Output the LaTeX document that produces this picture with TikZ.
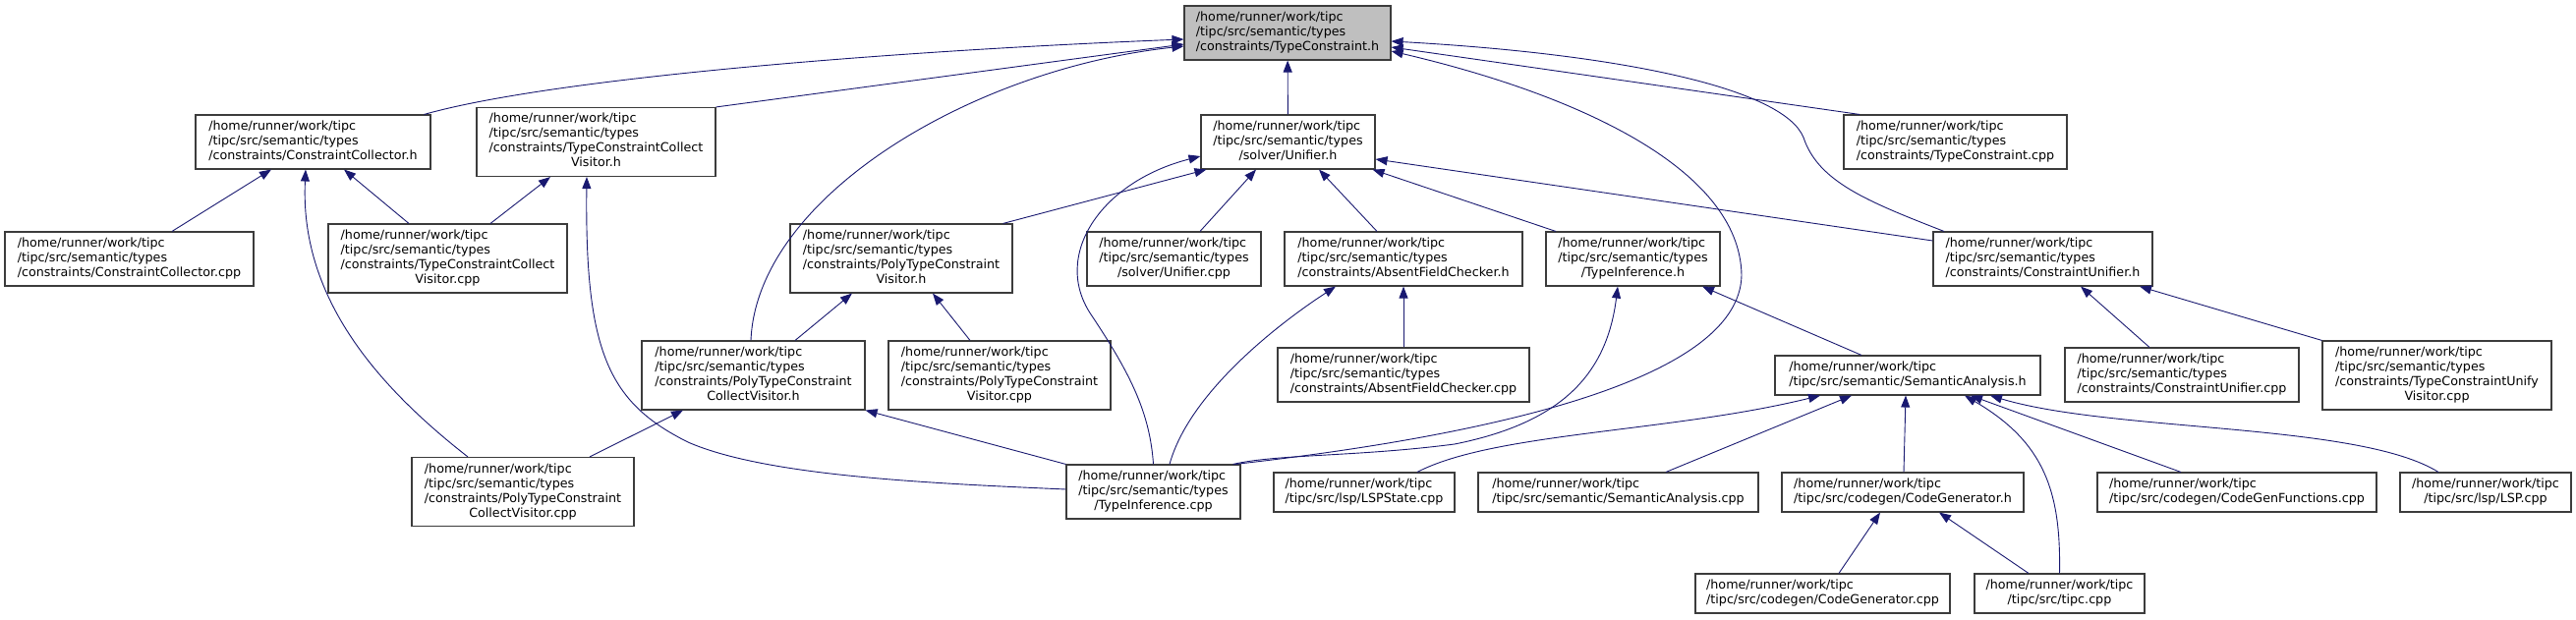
\documentclass[tikz,border=0pt]{standalone}
\usepackage{fontspec}
\setmainfont{DejaVu Sans}
\usepackage{tikz}
\usetikzlibrary{arrows.meta,calc}
\definecolor{edgeblue}{HTML}{191970}
\definecolor{rootgray}{HTML}{BFBFBF}
\definecolor{boxline}{HTML}{3C3C3C}
\newcommand{\dfont}{\fontsize{12.7}{15}\selectfont}
%% file label: all lines left, last one centred
\newcommand{\flbl}[2]{\begin{tabular}{@{}l@{}}#1\\\multicolumn{1}{@{}c@{}}{#2}\end{tabular}}
\tikzset{
  fbox/.style={rectangle,draw=boxline,line width=1.1pt,fill=white,
               inner sep=0pt,font=\dfont},
  rootbox/.style={fbox,fill=rootgray},
  two/.style={minimum height=40pt},
  three/.style={minimum height=55pt},
  four/.style={minimum height=70pt},
  inc/.style={-{Triangle[length=12pt,width=9pt]},draw=edgeblue,
              line width=0.9pt},
}

\begin{document}
\begin{tikzpicture}[x=1pt,y=-1pt]
  \useasboundingbox (0,0) rectangle (2621,631);
  \def\hm{/home/runner/work/tipc}
  \def\st{/tipc/src/semantic/types}
  %% Root
  \node[rootbox,three,minimum width=210pt] (tch) at (1310,33.5)
    {\flbl{\hm\\\st}{/constraints/TypeConstraint.h}};
  %% Rank 1
  \node[fbox,three,minimum width=239pt] (cch) at (318.5,144.5)
    {\flbl{\hm\\\st}{/constraints/ConstraintCollector.h}};
  \node[fbox,four,minimum width=243pt] (tccvh) at (606.5,144.5)
    {\flbl{\hm\\\st\\/constraints/TypeConstraintCollect}{Visitor.h}};
  \node[fbox,three,minimum width=177pt] (unh) at (1310.5,144.5)
    {\flbl{\hm\\\st}{/solver/Unifier.h}};
  \node[fbox,three,minimum width=227pt] (tccpp) at (1989.5,144.5)
    {\flbl{\hm\\\st}{/constraints/TypeConstraint.cpp}};
  %% Rank 2
  \node[fbox,three,minimum width=253pt] (cccpp) at (131.5,263.5)
    {\flbl{\hm\\\st}{/constraints/ConstraintCollector.cpp}};
  \node[fbox,four,minimum width=243pt] (tccvcpp) at (455.5,263)
    {\flbl{\hm\\\st\\/constraints/TypeConstraintCollect}{Visitor.cpp}};
  \node[fbox,four,minimum width=226pt] (ptcvh) at (917,263)
    {\flbl{\hm\\\st\\/constraints/PolyTypeConstraint}{Visitor.h}};
  \node[fbox,three,minimum width=177pt] (uncpp) at (1194.5,263.5)
    {\flbl{\hm\\\st}{/solver/Unifier.cpp}};
  \node[fbox,three,minimum width=242pt] (afch) at (1428,263.5)
    {\flbl{\hm\\\st}{/constraints/AbsentFieldChecker.h}};
  \node[fbox,three,minimum width=177pt] (tih) at (1661.5,263.5)
    {\flbl{\hm\\\st}{/TypeInference.h}};
  \node[fbox,three,minimum width=223pt] (cuh) at (2078.5,263.5)
    {\flbl{\hm\\\st}{/constraints/ConstraintUnifier.h}};
  %% Rank 3
  \node[fbox,four,minimum width=227pt] (ptccvh) at (766.5,382)
    {\flbl{\hm\\\st\\/constraints/PolyTypeConstraint}{CollectVisitor.h}};
  \node[fbox,four,minimum width=226pt] (ptcvcpp) at (1017,382)
    {\flbl{\hm\\\st\\/constraints/PolyTypeConstraint}{Visitor.cpp}};
  \node[fbox,three,minimum width=256pt] (afccpp) at (1428,381.5)
    {\flbl{\hm\\\st}{/constraints/AbsentFieldChecker.cpp}};
  \node[fbox,two,minimum width=270pt] (sah) at (1941,382)
    {\flbl{\hm}{/tipc/src/semantic/SemanticAnalysis.h}};
  \node[fbox,three,minimum width=238pt] (cucpp) at (2220,381.5)
    {\flbl{\hm\\\st}{/constraints/ConstraintUnifier.cpp}};
  \node[fbox,four,minimum width=233pt] (tcuvcpp) at (2479.5,382)
    {\flbl{\hm\\\st\\/constraints/TypeConstraintUnify}{Visitor.cpp}};
  %% Rank 4
  \node[fbox,four,minimum width=226pt] (ptccvcpp) at (532,500.5)
    {\flbl{\hm\\\st\\/constraints/PolyTypeConstraint}{CollectVisitor.cpp}};
  \node[fbox,three,minimum width=177pt] (ticpp) at (1173.5,500.5)
    {\flbl{\hm\\\st}{/TypeInference.cpp}};
  \node[fbox,two,minimum width=184pt] (lspstate) at (1388,501)
    {\flbl{\hm}{/tipc/src/lsp/LSPState.cpp}};
  \node[fbox,two,minimum width=285pt] (sacpp) at (1646.5,501)
    {\flbl{\hm}{/tipc/src/semantic/SemanticAnalysis.cpp}};
  \node[fbox,two,minimum width=246pt] (cgh) at (1936,501)
    {\flbl{\hm}{/tipc/src/codegen/CodeGenerator.h}};
  \node[fbox,two,minimum width=284pt] (cgfcpp) at (2276,501)
    {\flbl{\hm}{/tipc/src/codegen/CodeGenFunctions.cpp}};
  \node[fbox,two,minimum width=174pt] (lspcpp) at (2529,501)
    {\flbl{\hm}{/tipc/src/lsp/LSP.cpp}};
  %% Rank 5
  \node[fbox,two,minimum width=259pt] (cgcpp) at (1854.5,604)
    {\flbl{\hm}{/tipc/src/codegen/CodeGenerator.cpp}};
  \node[fbox,two,minimum width=173pt] (tipccpp) at (2095.5,604)
    {\flbl{\hm}{/tipc/src/tipc.cpp}};

  %% Includes of TypeConstraint.h
  \draw[inc] ([xshift=-7pt]cch.north east) .. controls (560,80) and (900,52)
    .. ([yshift=-6.5pt]tch.west);
  \draw[inc] (tccvh.north east) -- ([yshift=-11.5pt]tch.west);
  \draw[inc] ([xshift=-2.5pt]ptccvh.north) .. controls (770,200) and (990,70)
    .. ([yshift=-13.5pt]tch.west);
  \draw[inc] (unh) -- (tch);
  \draw[inc] ([xshift=-97.5pt]tccpp.north) -- ([yshift=-14.5pt]tch.east);
  \draw[inc] ([xshift=-100.5pt]cuh.north) .. controls (1900,205) and (1850,185)
    .. (1835,140) .. controls (1815,90) and (1650,55) .. ([yshift=-8.5pt]tch.east);
  \draw[inc] ([xshift=-6pt]ticpp.north east) .. controls (1500,445) and (1770,390)
    .. (1772,280) .. controls (1770,170) and (1600,95) .. ([yshift=-18.5pt]tch.east);

  %% Unifier.h
  \draw[inc] (ticpp.north) .. controls (1170,420) and (1150,380) .. (1110,320)
    .. controls (1070,260) and (1120,185) .. ([yshift=-14.5pt]unh.west);
  \draw[inc] ([xshift=-10pt]ptcvh.north east) -- ([xshift=6pt]unh.south west);
  \draw[inc] ([xshift=26.5pt]uncpp.north) -- ([xshift=-32.5pt]unh.south);
  \draw[inc] ([xshift=-27pt]afch.north) -- ([xshift=31.5pt]unh.south);
  \draw[inc] ([xshift=-78.5pt]tih.north) -- ([xshift=-3pt]unh.south east);
  \draw[inc] ([yshift=18.5pt]cuh.west) -- ([yshift=-17.5pt]unh.east);

  %% ConstraintCollector.h / TypeConstraintCollectVisitor.h
  \draw[inc] ([xshift=43.5pt]cccpp.north) -- ([xshift=-42.5pt]cch.south);
  \draw[inc] ([xshift=-56pt]ptccvcpp.north) .. controls (380,390) and (305,300)
    .. ([xshift=-7.5pt]cch.south);
  \draw[inc] ([xshift=-39.5pt]tccvcpp.north) -- ([xshift=31.5pt]cch.south);
  \draw[inc] ([xshift=43.5pt]tccvcpp.north) -- ([xshift=-46.5pt]tccvh.south);
  \draw[inc] ([yshift=2.5pt]ticpp.west) .. controls (950,492) and (780,485)
    .. (700,450) .. controls (620,410) and (595,360) .. ([xshift=-9.5pt]tccvh.south);

  %% PolyTypeConstraint visitors
  \draw[inc] ([xshift=42.5pt]ptccvh.north) -- ([xshift=-50pt]ptcvh.south);
  \draw[inc] ([xshift=-30pt]ptcvcpp.north) -- ([xshift=32pt]ptcvh.south);
  \draw[inc] ([xshift=68pt]ptccvcpp.north) -- ([xshift=-71.5pt]ptccvh.south);
  \draw[inc] (ticpp.north west) -- (ptccvh.south east);

  %% AbsentFieldChecker.h / TypeInference.h
  \draw[inc] (afccpp) -- (afch);
  \draw[inc] ([xshift=16.5pt]ticpp.north) .. controls (1210,400) and (1300,330)
    .. ([xshift=-69pt]afch.south);
  \draw[inc] ([xshift=-8pt]ticpp.north east) .. controls (1300,462) and (1380,465)
    .. (1480,452) .. controls (1590,430) and (1635,380) .. ([xshift=-15.5pt]tih.south);
  \draw[inc] ([xshift=-47pt]sah.north) -- ([xshift=70.5pt]tih.south);

  %% SemanticAnalysis.h
  \draw[inc] ([xshift=54pt]lspstate.north) .. controls (1520,440) and (1700,440)
    .. ([xshift=-89pt]sah.south);
  \draw[inc] ([xshift=48.5pt]sacpp.north) -- ([xshift=-57pt]sah.south);
  \draw[inc] ([xshift=1pt]cgh.north) -- ([xshift=-2pt]sah.south);
  \draw[inc] (tipccpp.north) .. controls (2097,500) and (2080,450)
    .. ([xshift=58pt]sah.south);
  \draw[inc] ([xshift=-57pt]cgfcpp.north) -- ([xshift=64pt]sah.south);
  \draw[inc] ([xshift=-48pt]lspcpp.north) .. controls (2400,430) and (2150,440)
    .. ([xshift=84pt]sah.south);

  %% CodeGenerator.h / ConstraintUnifier.h
  \draw[inc] ([xshift=16.5pt]cgcpp.north) -- ([xshift=-23pt]cgh.south);
  \draw[inc] ([xshift=-31.5pt]tipccpp.north) -- ([xshift=37pt]cgh.south);
  \draw[inc] ([xshift=-33pt]cucpp.north) -- ([xshift=38.5pt]cuh.south);
  \draw[inc] (tcuvcpp.north west) -- ([xshift=98.5pt]cuh.south);
\end{tikzpicture}
\end{document}
